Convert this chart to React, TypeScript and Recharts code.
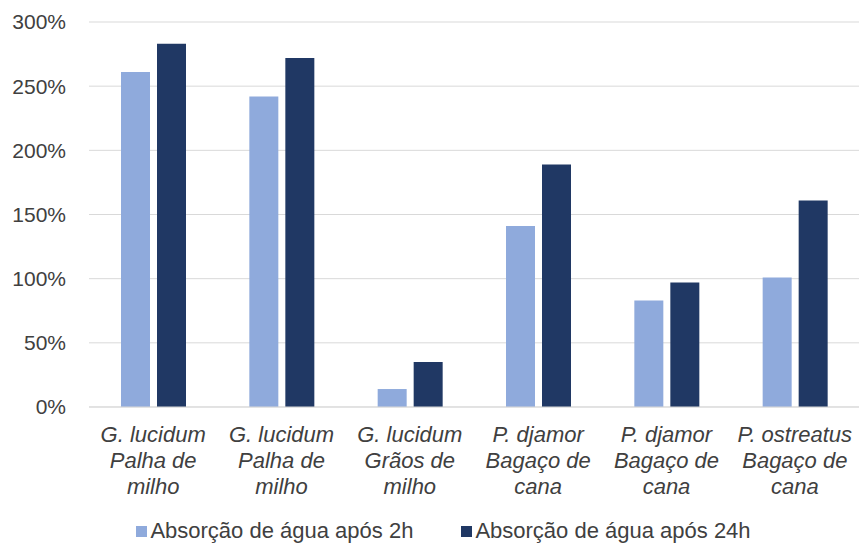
import { BarChart, Bar, XAxis, YAxis, CartesianGrid, Legend } from "recharts"

const categories = [
  ["G. lucidum", "Palha de", "milho"],
  ["G. lucidum", "Palha de", "milho"],
  ["G. lucidum", "Grãos de", "milho"],
  ["P. djamor", "Bagaço de", "cana"],
  ["P. djamor", "Bagaço de", "cana"],
  ["P. ostreatus", "Bagaço de", "cana"]
]
const after2h = [261, 242, 14, 141, 83, 101]
const after24h = [283, 272, 35, 189, 97, 161]
const yTicks = [0, 50, 100, 150, 200, 250, 300]

const LIGHT = "#8FAADC"
const DARK = "#203864"
const TEXT = "#404040"
const FONT = "'Liberation Sans', Arial, sans-serif"

const chartData = categories.map((lines, i) => ({
  name: lines.join(" "),
  h2: after2h[i],
  h24: after24h[i]
}))

function CategoryTick({ x, y, payload }: any) {
  const lines = categories[payload.index] ?? []
  return (
    <text x={x} y={y} textAnchor="middle" fill={TEXT} fontSize={22} fontStyle="italic" fontFamily={FONT}>
      {lines.map((l, i) => (
        <tspan key={i} x={x} dy={i === 0 ? 27 : 26}>
          {l}
        </tspan>
      ))}
    </text>
  )
}

function LegendContent() {
  const items = [
    { label: "Absorção de água após 2h", color: LIGHT },
    { label: "Absorção de água após 24h", color: DARK }
  ]
  return (
    <div
      style={{
        display: "flex",
        justifyContent: "center",
        gap: 48,
        fontFamily: FONT,
        fontSize: 22,
        color: TEXT,
        paddingTop: 11,
        paddingLeft: 28
      }}
    >
      {items.map(it => (
        <div key={it.label} style={{ display: "flex", alignItems: "center" }}>
          <span style={{ width: 11, height: 11, background: it.color, marginRight: 3 }} />
          <span>{it.label}</span>
        </div>
      ))}
    </div>
  )
}

export default function App() {
  return (
    <div style={{ width: 860, height: 543, background: "#fff" }}>
      <style>{"body{margin:0}"}</style>
      <BarChart
        width={860}
        height={543}
        data={chartData}
        margin={{ top: 22, right: 1, left: 0, bottom: 0 }}
        barGap={7}
      >
        <CartesianGrid vertical={false} stroke="#D9D9D9" />
        <XAxis
          dataKey="name"
          height={100}
          tickLine={false}
          axisLine={{ stroke: "#D9D9D9" }}
          interval={0}
          tick={<CategoryTick />}
        />
        <YAxis
          width={89}
          domain={[0, 300]}
          ticks={yTicks}
          tickFormatter={v => `${v}%`}
          axisLine={false}
          tickLine={false}
          tickMargin={17}
          tick={{ fill: TEXT, fontSize: 21, fontFamily: FONT }}
        />
        <Legend verticalAlign="bottom" height={36} content={<LegendContent />} />
        <Bar dataKey="h2" name="Absorção de água após 2h" fill={LIGHT} barSize={29} isAnimationActive={false} />
        <Bar dataKey="h24" name="Absorção de água após 24h" fill={DARK} barSize={29} isAnimationActive={false} />
      </BarChart>
    </div>
  )
}
